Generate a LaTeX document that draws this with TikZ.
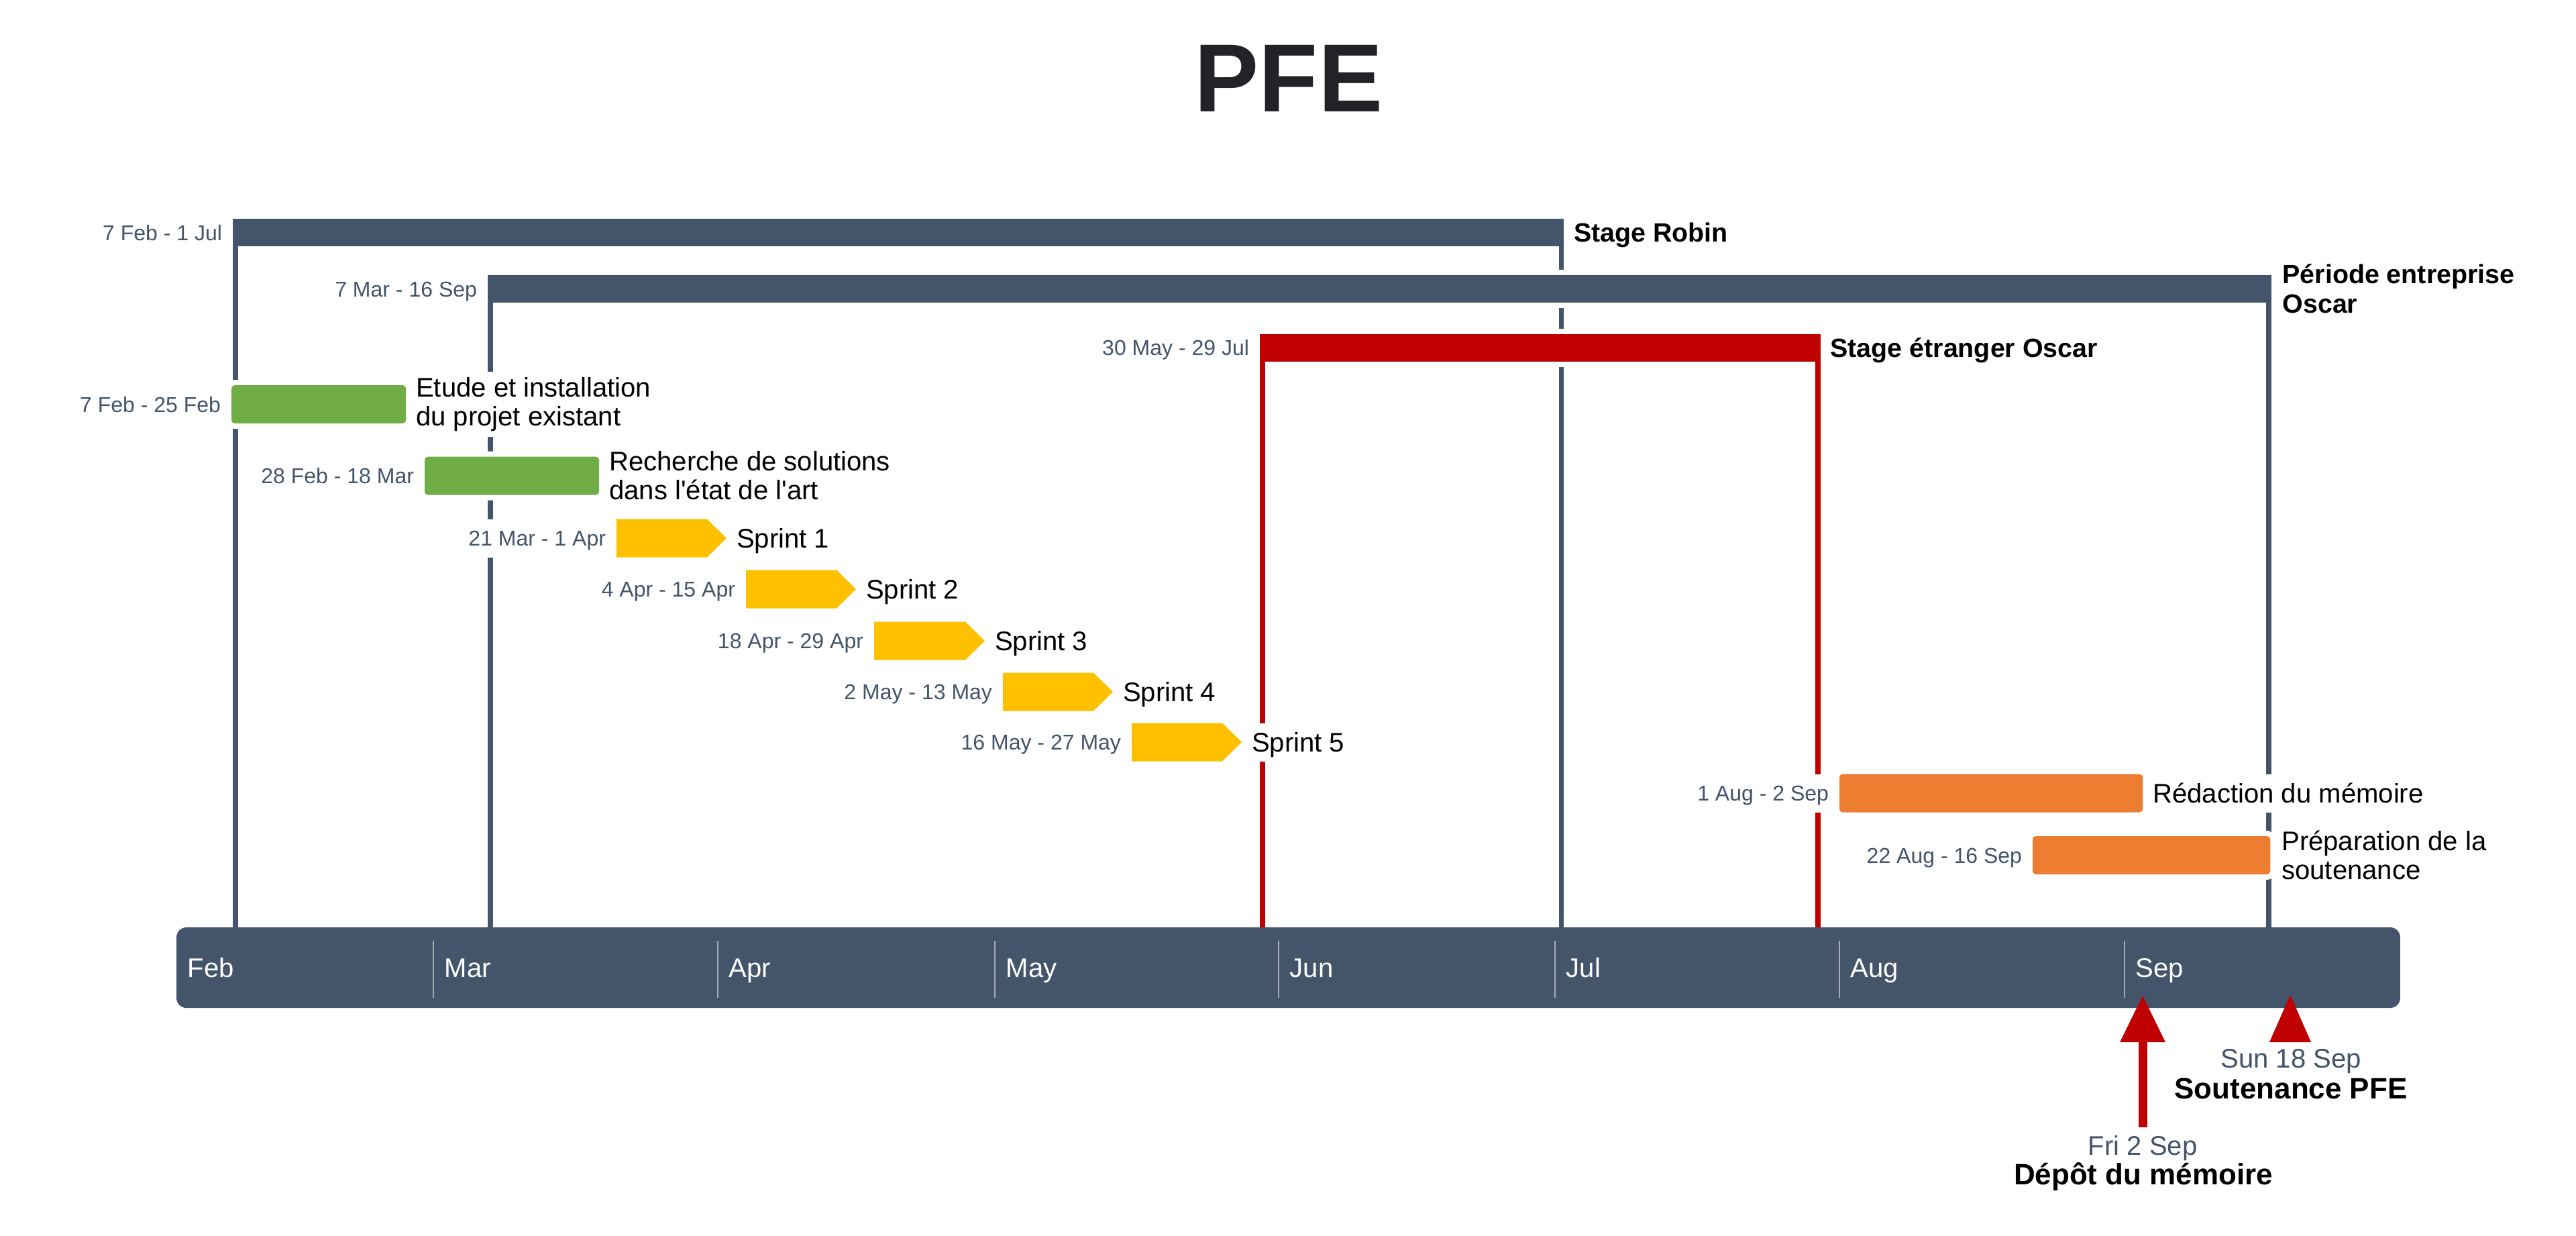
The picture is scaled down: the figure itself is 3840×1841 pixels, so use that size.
\documentclass[tikz,border=0pt]{standalone}
\usepackage{fontspec}
\setmainfont{Liberation Sans}
\usetikzlibrary{positioning,arrows.meta}

\definecolor{slate}{HTML}{44546A}
\definecolor{tickgray}{HTML}{A3ABB7}
\definecolor{stagered}{HTML}{C00000}
\definecolor{taskgreen}{HTML}{70AD47}
\definecolor{taskorange}{HTML}{ED7D31}
\definecolor{sprintyellow}{HTML}{FFC000}
\definecolor{titleink}{HTML}{222326}

\newcommand\dtfont{\fontsize{9.1pt}{11pt}\selectfont}
\newcommand\lbfont{\fontsize{11.4pt}{12.25pt}\selectfont}
\newcommand\pdfont{\fontsize{11.2pt}{12.5pt}\selectfont\bfseries}
\newcommand\msfont{\fontsize{12.5pt}{14pt}\selectfont\bfseries}
\newcommand\bigtitlefont{\fontsize{41pt}{48pt}\selectfont\bfseries}

\tikzset{
  halo/.style={preaction={draw=white, line width=0.16cm}},
  periodbar/.style={rectangle, inner sep=0pt, outer sep=0pt, minimum height=0.41cm, anchor=west, halo},
  taskbar/.style={rectangle, rounded corners=0.05cm, inner sep=0pt, outer sep=0pt, minimum height=0.57cm, anchor=west, halo},
  vline/.style={line width=0.075cm},
  datelbl/.style={fill=white, inner sep=0pt, outer sep=0pt, text height=0.23cm, text depth=0pt, minimum height=0.57cm, font=\dtfont, text=slate, anchor=east},
  tasklbl/.style={fill=white, inner sep=0pt, outer sep=0pt, text height=0.286cm, text depth=0pt, minimum height=0.57cm, font=\lbfont, anchor=west},
  tasklbltwo/.style={fill=white, inner xsep=0pt, inner ysep=0.08cm, outer sep=0pt, align=left, font=\lbfont, anchor=west},
  periodlbl/.style={inner sep=0pt, outer sep=0pt, text height=0.28cm, text depth=0pt, font=\pdfont, anchor=west},
  periodlbltwo/.style={inner sep=0pt, outer sep=0pt, align=left, font=\pdfont, anchor=west},
  monthlbl/.style={inner sep=0pt, text height=0.286cm, text depth=0pt, font=\lbfont, text=white, anchor=west},
  monthsep/.style={draw=tickgray, line width=0.025cm},
  msdate/.style={inner xsep=0pt, inner ysep=0.117cm, text height=0.286cm, text depth=0pt, font=\lbfont, text=slate},
  msname/.style={inner sep=0pt, text height=0.315cm, text depth=0pt, font=\msfont},
}

% a sprint chevron: start x, tip x, centre y, name
\newcommand\sprintbar[4]{%
  \fill[sprintyellow] (#1,#3-28.5) -- (#2-29,#3-28.5) -- (#2,#3) -- (#2-29,#3+28.5) -- (#1,#3+28.5) -- cycle;
  \coordinate (#4-s) at (#1,#3);
  \coordinate (#4-e) at (#2,#3);
}

\begin{document}
\begin{tikzpicture}[x=0.01cm, y=-0.01cm]
\useasboundingbox (0,0) rectangle (3840,1841);
\fill[white] (0,0) rectangle (3840,1841);

% title
\node[font=\bigtitlefont, text=titleink, inner sep=0pt, text height=1.03cm, text depth=0pt] (title) at (1921,114.5) {PFE};

% time axis
\node[fill=slate, rounded corners=0.15cm, inner sep=0pt, outer sep=0pt, minimum width=33.13cm, minimum height=1.20cm, anchor=north west] (axis) at (263,1382) {};
\foreach \x in {646,1070,1483,1906,2318,2742,3167}
  \draw[monthsep] (\x,1402) -- (\x,1487);
\foreach \x/\m in {263/Feb,646/Mar,1070/Apr,1483/May,1906/Jun,2318/Jul,2742/Aug,3167/Sep}
  \node[monthlbl] (month\m) at (\x+16,1442) {\m};

% Stage Robin
\node[periodbar, fill=slate, minimum width=19.83cm] (robin) at (347,346.5) {};
\node[datelbl, left=0.16cm of robin.west] (robind) {7 Feb - 1 Jul};
\node[periodlbl, right=0.15cm of robin.east] (robinl) {Stage Robin};
\coordinate (robinA) at ([xshift=0.0375cm]robin.south west);
\coordinate (robinB) at ([xshift=-0.0375cm]robin.south east);
\draw[vline, slate] (robinA) -- (robinA |- axis.north);
\draw[vline, slate] (robinB) -- (robinB |- axis.north);

% Periode entreprise
\node[periodbar, fill=slate, minimum width=26.57cm] (oscar) at (727,430.5) {};
\node[datelbl, left=0.16cm of oscar.west] (oscard) {7 Mar - 16 Sep};
\node[periodlbltwo, right=0.17cm of oscar.east] (oscarl) {Période entreprise\\Oscar};
\coordinate (oscarA) at ([xshift=0.0375cm]oscar.south west);
\coordinate (oscarB) at ([xshift=-0.0375cm]oscar.south east);
\draw[vline, slate] (oscarA) -- (oscarA |- axis.north);
\draw[vline, slate] (oscarB) -- (oscarB |- axis.north);

% Stage a l'etranger
\node[periodbar, fill=stagered, minimum width=8.35cm] (abroad) at (1878,518) {};
\node[datelbl, left=0.16cm of abroad.west] (abroadd) {30 May - 29 Jul};
\node[periodlbl, right=0.15cm of abroad.east] (abroadl) {Stage étranger Oscar};
\coordinate (abroadA) at ([xshift=0.0375cm]abroad.south west);
\coordinate (abroadB) at ([xshift=-0.0375cm]abroad.south east);
\draw[vline, stagered] (abroadA) -- (abroadA |- axis.north);
\draw[vline, stagered] (abroadB) -- (abroadB |- axis.north);

% study tasks
\node[taskbar, fill=taskgreen, minimum width=2.60cm] (g1) at (345,602.5) {};
\node[datelbl, left=0.16cm of g1.west] (g1d) {7 Feb - 25 Feb};
\node[tasklbltwo, right=0.15cm of g1.east] (g1l) {Etude et installation\\du projet existant};

\node[taskbar, fill=taskgreen, minimum width=2.60cm] (g2) at (633,709) {};
\node[datelbl, left=0.16cm of g2.west] (g2d) {28 Feb - 18 Mar};
\node[tasklbltwo, right=0.15cm of g2.east] (g2l) {Recherche de solutions\\dans l\textquotesingle état de l\textquotesingle art};

% sprints
\sprintbar{919}{1083}{802}{s1}
\sprintbar{1112}{1276}{878}{s2}
\sprintbar{1303}{1468}{955}{s3}
\sprintbar{1495}{1659}{1031}{s4}
\sprintbar{1687}{1851}{1106}{s5}
\foreach \s/\d/\n in {s1/21 Mar - 1 Apr/1, s2/4 Apr - 15 Apr/2, s3/18 Apr - 29 Apr/3, s4/2 May - 13 May/4, s5/16 May - 27 May/5}{
  \node[datelbl, left=0.16cm of \s-s] (\s d) {\d};
  \node[tasklbl, right=0.15cm of \s-e] (\s l) {Sprint \n};
}

% report and defence preparation
\node[taskbar, fill=taskorange, minimum width=4.52cm] (o1) at (2742,1182) {};
\node[datelbl, left=0.16cm of o1.west] (o1d) {1 Aug - 2 Sep};
\node[tasklbl, right=0.15cm of o1.east] (o1l) {Rédaction du mémoire};

\node[taskbar, fill=taskorange, minimum width=3.54cm] (o2) at (3030,1274.5) {};
\node[datelbl, left=0.16cm of o2.west] (o2d) {22 Aug - 16 Sep};
\node[tasklbltwo, right=0.17cm of o2.east] (o2l) {Préparation de la\\soutenance};

% milestones
\coordinate (m1) at (3194,1483);
\node[msdate] (m1d) at (3194,1707) {Fri 2 Sep};
\node[msname] (m1n) at (3195,1750) {Dépôt du mémoire};
\draw[stagered, line width=0.13cm, -{Triangle[length=0.70cm, width=0.64cm]}] (m1d.north) -- (m1);

\coordinate (m2) at (3414,1483);
\node[msdate] (m2d) at (3415,1577) {Sun 18 Sep};
\node[msname] (m2n) at (3415,1622) {Soutenance PFE};
\fill[stagered] (m2) -- ([xshift=-0.31cm, yshift=-0.70cm]m2) -- ([xshift=0.31cm, yshift=-0.70cm]m2) -- cycle;
\end{tikzpicture}
\end{document}
